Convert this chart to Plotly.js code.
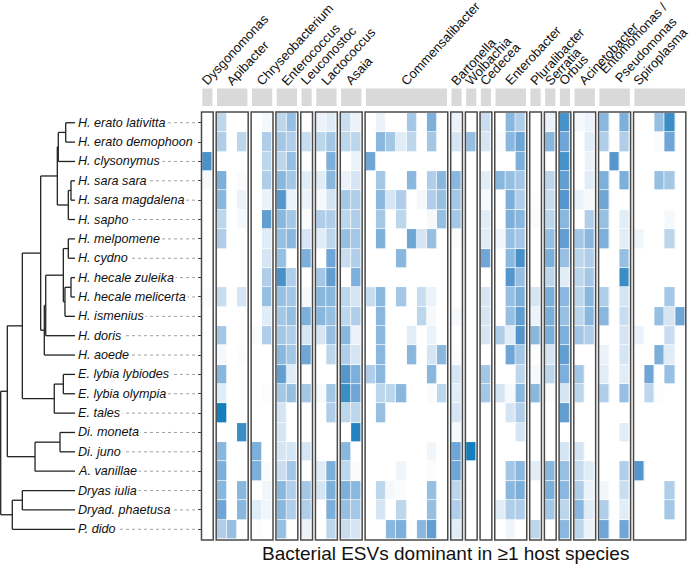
<!DOCTYPE html>
<html><head><meta charset="utf-8">
<script src="https://cdn.plot.ly/plotly-3.0.1.min.js"></script>
<style>html,body{margin:0;padding:0;background:#fff}#chart{width:692px;height:574px}</style>
</head><body><div id="chart"></div>
<script>
// ---------- DATA ----------
const species = ["H. erato lativitta","H. erato demophoon","H. clysonymus","H. sara sara","H. sara magdalena","H. sapho","H. melpomene","H. cydno","H. hecale zuleika","H. hecale melicerta","H. ismenius","H. doris","H. aoede","E. lybia lybiodes","E. lybia olympia","E. tales","Di. moneta","Di. juno","A. vanillae","Dryas iulia","Dryad. phaetusa","P. dido"];
const genera = ["Dysgonomonas","Apibacter","Chryseobacterium","Enterococcus","Leuconostoc","Lactococcus","Asaia","Commensalibacter","Bartonella","Wolbachia","Cedecea","Enterobacter","Pluralibacter","Serratia","Orbus","Acinetobacter","Entomomonas /<br>Pseudomonas","Spiroplasma"];
const esvPerGenus = [1,3,2,2,1,2,2,8,1,1,1,3,1,1,1,2,3,5];
// relative abundance per host (rows) x ESV (40 columns, in genus order)
const r00=[0,.3,0,0,0,.05,.3,.45,0,.1, .15,.25,.1,0,.1,0,0,.4,0,.55, 0,.1,0,.25,0,.5,.35,0,.1,.75, .05,.1,.5,0,.55,0,0,.45,.8,0];
const r01=[0,.35,0,.3,0,.35,.4,.35,.25,.3, .4,.3,.3,0,.5,.4,.15,.3,0,.4, 0,.2,.45,.2,.03,.5,.6,0,.5,.6, 0,.15,.35,0,.35,0,0,.03,.6,0];
const r02=[.75,0,0,0,0,.3,.3,.45,0,0, .55,0,.1,.6,0,0,0,0,0,0, 0,0,0,0,0,0,.55,0,0,.75, 0,.1,0,.7,0,0,0,0,0,0];
const r03=[.05,.55,0,.03,0,.35,.5,.4,.15,.15, .5,.1,.2,0,.4,0,0,.5,0,.35, .5,.5,0,.15,.5,.45,.4,0,.3,.65, 0,.15,.55,0,.55,0,0,.45,.4,0];
const r04=[0,.5,0,.1,0,.1,.7,.1,.1,.05, .2,.4,.35,0,.5,.2,.35,0,.05,.35, .45,.4,0,.05,0,.55,.35,.02,.25,.7, .1,.05,.6,0,0,0,0,0,0,0];
const r05=[0,.3,0,.05,0,.65,.5,.4,.03,.35, .35,.3,.35,0,.4,0,.3,0,0,.05, .45,.4,0,.15,0,.55,.5,.03,.3,.5, 0,.35,.45,0,.15,0,0,0,.05,0];
const r06=[0,.35,0,0,0,.15,.45,.5,.2,.15, .3,.45,.4,0,.55,0,0,.6,.2,.45, 0,.03,0,.15,.07,.45,.4,0,.45,.65, .4,.5,.55,0,.15,.07,0,0,.3,0];
const r07=[0,0,0,0,0,.2,.45,0,.55,0, .6,.25,.35,0,0,0,.5,0,0,0, 0,0,0,.6,0,.5,.75,0,.55,.45, .3,.35,0,0,.45,0,0,0,0,0];
const r08=[0,0,0,0,0,.35,.75,.35,0,.4, .65,0,.55,0,0,0,0,0,0,0, 0,0,0,0,0,.7,.45,0,.3,.15, .3,.4,0,0,.8,0,0,0,0,0];
const r09=[.03,.25,0,.2,0,.45,.45,.4,.05,.5, .5,.3,.2,.25,.5,0,.4,0,.25,.1, 0,0,0,.2,0,.45,.55,.2,.55,.5, .3,.5,.35,0,.2,0,0,0,.4,0];
const r10=[0,0,0,0,0,.15,.4,.45,.55,.5, .45,.3,.35,0,.5,0,0,0,.3,.05, 0,.05,0,.2,0,.45,.65,.1,.55,.45, .3,.5,.5,0,.25,0,0,.45,.2,.6];
const r11=[0,.4,0,0,.03,.35,.4,.35,.2,.2, .45,.5,.1,0,.5,0,0,.15,0,.1, 0,0,0,.2,.35,.15,.7,.5,.55,.55, .4,.35,0,0,.2,.1,0,0,.25,0];
const r12=[0,.05,0,.02,0,0,.5,.4,.6,0, .3,.35,.2,0,.5,0,0,.5,0,.2, .5,.03,0,0,0,.6,.4,.02,.2,.65, 0,0,.1,0,.2,0,0,.55,.15,0];
const r13=[0,.5,0,0,0,0,.65,.15,0,0, 0,.7,.55,.35,.5,0,0,0,0,.5, 0,.2,0,.4,0,0,.3,.05,.3,.55, .4,0,.15,0,.15,0,.6,0,.45,0];
const r14=[0,.15,0,0,0,.02,.4,.45,.4,.05, .4,.8,.6,0,.3,.3,.5,0,0,.03, .3,.15,0,.4,.2,.05,.5,.5,.03,.2, .3,0,.35,0,.45,0,.3,.02,0,0];
const r15=[0,.95,0,0,0,0,.2,0,0,0, .35,.3,.3,0,.45,0,0,0,0,0, 0,.2,0,0,0,.2,.35,0,0,.65, 0,0,0,0,0,0,0,0,0,0];
const r16=[0,0,0,.8,0,0,.2,0,0,0, 0,0,.9,0,0,0,0,0,0,0, 0,.05,0,0,0,0,.2,0,0,0, 0,0,0,0,.15,0,0,0,0,0];
const r17=[0,.5,0,0,.55,0,.2,.2,.2,0, 0,.5,0,0,0,0,0,0,0,.07, 0,.6,.95,0,0,0,0,0,0,.2, .2,0,0,0,0,0,0,0,0,0];
const r18=[0,.55,0,0,.55,.03,.25,.4,0,.15, .55,.3,.03,0,0,0,.07,0,0,.02, 0,.6,0,0,0,.4,.5,.15,.5,.45, .25,.15,0,0,.35,.7,0,0,0,0];
const r19=[0,.5,0,.5,0,.07,.5,.35,.4,.2, .55,.55,.5,0,.3,.05,.03,0,0,.45, 0,.3,.02,0,0,.5,.55,0,.55,.5, .35,.1,.07,0,.25,0,0,0,.35,0];
const r20=[0,.6,0,.5,.15,.07,.5,.35,.35,0, .55,.45,.4,0,.2,0,.3,0,0,.45, 0,.35,0,0,.15,.35,.35,0,.4,.3, .5,.15,.35,0,.15,0,0,0,.4,0];
const r21=[0,.35,.45,0,.02,0,.45,0,.1,0, .3,.25,.2,0,0,.5,.55,0,.5,.65, 0,.15,0,0,0,.07,0,.3,0,.5, .3,.1,.6,0,.6,0,0,0,0,0];
const abundance=[r00,r01,r02,r03,r04,r05,r06,r07,r08,r09,r10,r11,r12,r13,r14,r15,r16,r17,r18,r19,r20,r21];
// phylogeny: [node depth, child, child]; leaves = species index (depth 1)
const tree=[0,
  [0.089,
    [0.291,
      [0.538,
        [0.762,[0.775,[0.875,0,1],2],[0.910,[0.946,3,4],5]],
        [0.587,[0.606,[0.843,[0.910,6,7],[0.865,[0.946,8,9],10]],11],12]
      ],
      [0.721,[0.843,13,14],15]
    ],
    [0.462,[0.798,16,17],18]
  ],
  [0.156,[0.291,19,20],21]
];

// ---------- LAYOUT CONSTANTS ----------
const W=692,H=574;
const GAP=0.45;                 // gap between genus blocks, in ESV-column units
const X_RANGE=[-20.47,47.84];   // heat-map axis range
const Y_RANGE=[23.31,-6.34];    // row axis range (reversed)
const T_RANGE=[-0.0094,9.304];  // tree axis range
const FONT='"Liberation Sans", Arial, sans-serif';
const labelNudge={"Spiroplasma":-2.1,"Entomomonas /<br>Pseudomonas":-0.9};
const colorscale=[[0,'rgb(255,255,255)'],[0.2,'rgb(214,229,243)'],[0.45,'rgb(150,191,226)'],[0.7,'rgb(85,150,204)'],[1,'rgb(8,122,186)']];

const traces=[];
const shapes=[];
const annotations=[];
let col=0;
genera.forEach((g,gi)=>{
  const n=esvPerGenus[gi];
  const x0=col+gi*GAP;
  const z=abundance.map(r=>r.slice(col,col+n));
  traces.push({type:'heatmap',z:z,x0:x0,dx:1,y0:0,dy:1,colorscale:colorscale,zmin:0,zmax:1,
    showscale:false,xgap:0.7,ygap:0.7,hoverinfo:'skip',xaxis:'x',yaxis:'y'});
  const left=x0-0.5,right=x0+n-0.5;
  shapes.push({type:'rect',xref:'x',yref:'y',x0:left,x1:right,y0:-1.77,y1:-0.86,
    fillcolor:'#d9d9d9',line:{width:0}});
  shapes.push({type:'rect',xref:'x',yref:'y',x0:left-0.08,x1:right+0.08,y0:-0.56,y1:21.56,
    fillcolor:'rgba(0,0,0,0)',line:{color:'#4a4a4a',width:1.5}});
  const cx=(left+right)/2-1.13+(labelNudge[g]||0);
  annotations.push({xref:'x',yref:'paper',x:cx,y:1-91/H,xanchor:'left',yanchor:'bottom',
    text:g,textangle:-47,showarrow:false,font:{family:FONT,size:13,color:'#111'},borderpad:1});
  col+=n;
});

// tree segments
const tx=[],ty=[];
function walk(node){
  if(typeof node==='number') return {y:node,d:1};
  const d=node[0];
  const kids=node.slice(1).map(walk);
  const ys=kids.map(k=>k.y);
  tx.push(d,d,null); ty.push(Math.min(...ys),Math.max(...ys),null);
  kids.forEach(k=>{tx.push(d,k.d,null); ty.push(k.y,k.y,null);});
  return {y:(Math.min(...ys)+Math.max(...ys))/2,d:d};
}
walk(tree);
traces.push({type:'scatter',mode:'lines',x:tx,y:ty,xaxis:'x2',yaxis:'y',
  line:{color:'#222',width:1.3},hoverinfo:'skip',showlegend:false});

species.forEach((s,i)=>{
  shapes.push({type:'line',xref:'paper',yref:'y',x0:78/W,x1:197/W,y0:i,y1:i,
    line:{color:'#a0a0a0',width:1,dash:'dot'}});
  annotations.push({xref:'paper',yref:'y',x:75.5/W,y:i,xanchor:'left',yanchor:'middle',
    text:'<i>'+s+'</i>',showarrow:false,bgcolor:'#fff',borderpad:1,
    font:{family:FONT,size:12.6,color:'#111'}});
});

annotations.push({xref:'paper',yref:'paper',x:445/W,y:1-553/H,xanchor:'center',yanchor:'middle',
  text:'Bacterial ESVs dominant in ≥1 host species',showarrow:false,font:{family:FONT,size:19,color:'#111'}});

const layout={width:W,height:H,margin:{l:0,r:0,t:0,b:0},paper_bgcolor:'#fff',plot_bgcolor:'rgba(0,0,0,0)',
  showlegend:false,hovermode:false,
  xaxis:{range:X_RANGE,domain:[0,1],visible:false,fixedrange:true},
  xaxis2:{range:T_RANGE,domain:[0,1],overlaying:'x',anchor:'y',visible:false,fixedrange:true},
  yaxis:{range:Y_RANGE,domain:[0,1],anchor:'free',position:200.5/W,showgrid:false,zeroline:false,
    showline:false,showticklabels:false,ticks:'outside',ticklen:3,tickwidth:1,tickcolor:'#444',
    tickvals:species.map((s,i)=>i),fixedrange:true},
  shapes:shapes,annotations:annotations};
Plotly.newPlot('chart',traces,layout,{displayModeBar:false,staticPlot:true});
</script></body></html>
